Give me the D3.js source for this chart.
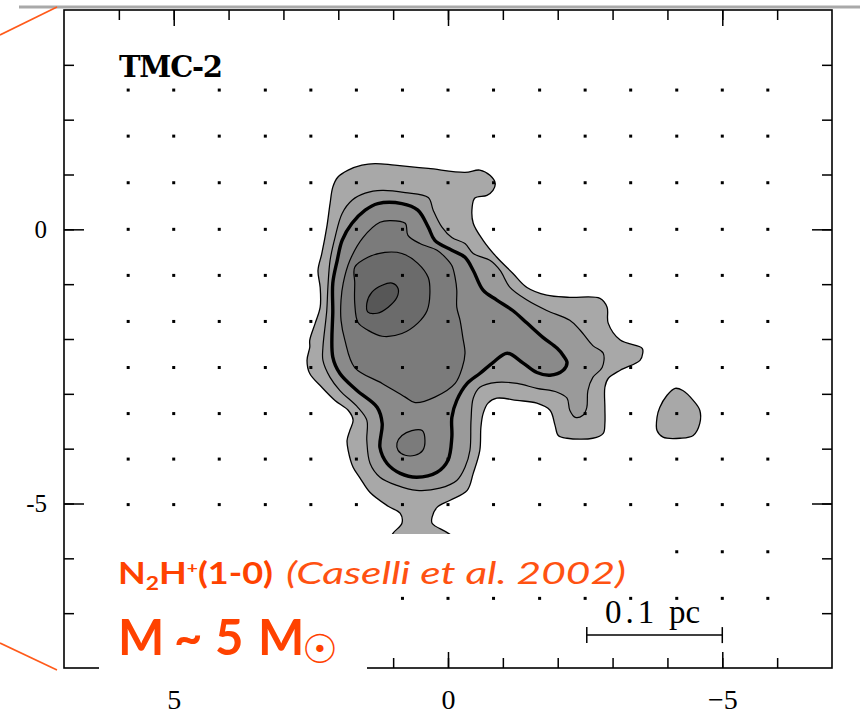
<!DOCTYPE html>
<html>
<head>
<meta charset="utf-8">
<script src="https://cdn.jsdelivr.net/npm/d3@7"></script>
<style>
  html, body { margin: 0; padding: 0; background: #fff; }
  svg { display: block; }
</style>
</head>
<body>
<svg id="chart" width="860" height="714"></svg>
<script>
// ---- axis ticks (offsets in arcmin) ----
const xTicksMinor = [6, 5, 4, 3, 2, 1, 0, -1, -2, -3, -4, -5, -6];
const xTicksMajor = [5, 0, -5];
const xTickLabels = ["5", "0", "\u22125"];
const yTicksMinor = [3, 2, 1, 0, -1, -2, -3, -4, -5, -6, -7];
const yTicksMajor = [0, -5];
const yTickLabels = ["0", "-5"];

// ---- observed map positions ----
const mapCols = [5.83, 5.0, 4.17, 3.33, 2.5, 1.67, 0.83, 0, -0.83, -1.67, -2.5, -3.33, -4.17, -5.0, -5.83];
const mapRows = [2.54, 1.70, 0.85, 0, -0.84, -1.68, -2.52, -3.36, -4.19, -5.02, -5.88, -6.73];

// ---- N2H+ integrated intensity contours, [x, y] offsets ----
const contourL1Main = [
  [2.01, 0.95], [1.82, 1.08], [1.57, 1.17], [1.33, 1.20], [0.97, 1.17], [0.36, 1.11],
  [-0.31, 1.04], [-0.58, 1.08], [-0.77, 0.98], [-0.86, 0.84], [-0.82, 0.71], [-0.71, 0.62],
  [-0.49, 0.57], [-0.44, 0.40], [-0.46, 0.11], [-0.64, -0.20], [-0.89, -0.51], [-1.18, -0.80],
  [-1.44, -1.06], [-1.80, -1.20], [-2.22, -1.24], [-2.77, -1.26], [-2.90, -1.42], [-2.92, -1.71],
  [-3.14, -2.02], [-3.54, -2.17], [-3.55, -2.26], [-3.50, -2.39], [-3.14, -2.57], [-2.92, -2.72],
  [-2.86, -2.88], [-2.86, -3.25], [-2.86, -3.54], [-2.83, -3.72], [-2.64, -3.81], [-2.17, -3.81],
  [-2.01, -3.76], [-1.95, -3.57], [-1.86, -3.30], [-1.62, -3.17], [-1.26, -3.12], [-0.89, -3.08],
  [-0.73, -3.17], [-0.64, -3.36], [-0.60, -3.61], [-0.58, -4.03], [-0.46, -4.45], [-0.35, -4.76],
  [-0.04, -4.94], [0.20, -5.07], [0.29, -5.25], [0.29, -5.36], [0.0, -5.54], [-0.35, -5.80],
  [-0.40, -6.20], [1.20, -6.20], [1.15, -5.80], [1.00, -5.54], [0.84, -5.36], [0.87, -5.18],
  [1.09, -5.05], [1.42, -4.80], [1.60, -4.54], [1.73, -4.34], [1.82, -4.03], [1.84, -3.85],
  [1.79, -3.67], [1.73, -3.48], [1.82, -3.30], [2.06, -3.12], [2.30, -2.88], [2.52, -2.63],
  [2.57, -2.39], [2.52, -2.15], [2.52, -2.02], [2.42, -1.71], [2.33, -1.42], [2.33, -1.06],
  [2.37, -0.75], [2.30, -0.44], [2.21, 0.04], [2.15, 0.47], [2.10, 0.77]
];
const contourL1East = [
  [-3.81, -3.43], [-3.86, -3.25], [-3.99, -3.03], [-4.14, -2.90], [-4.28, -2.94], [-4.47, -3.12],
  [-4.59, -3.30], [-4.59, -3.54], [-4.47, -3.76], [-4.23, -3.81], [-3.92, -3.79], [-3.81, -3.67]
];
const contourL2 = [
  [2.06, -0.15], [1.93, 0.29], [1.75, 0.53], [1.51, 0.66], [1.20, 0.71], [0.78, 0.67],
  [0.36, 0.58], [0.27, 0.35], [0.11, 0.04], [-0.07, -0.15], [-0.31, -0.26], [-0.46, -0.44],
  [-0.77, -0.57], [-0.95, -0.75], [-1.13, -1.06], [-1.44, -1.29], [-1.80, -1.48], [-2.22, -1.66],
  [-2.41, -1.84], [-2.64, -2.12], [-2.83, -2.26], [-2.81, -2.52], [-2.64, -2.70], [-2.55, -2.94],
  [-2.53, -3.25], [-2.46, -3.39], [-2.32, -3.43], [-2.22, -3.30], [-2.17, -3.08], [-1.99, -2.97],
  [-1.62, -2.90], [-1.26, -2.81], [-0.89, -2.79], [-0.58, -2.88], [-0.46, -3.08], [-0.42, -3.48],
  [-0.40, -4.03], [-0.31, -4.34], [-0.16, -4.58], [0.15, -4.72], [0.57, -4.76], [0.93, -4.67],
  [1.24, -4.52], [1.42, -4.27], [1.48, -3.85], [1.48, -3.48], [1.64, -3.25], [1.97, -2.94],
  [2.15, -2.70], [2.28, -2.39], [2.28, -2.15], [2.21, -1.48], [2.19, -1.06], [2.15, -0.57]
];
const contourL3 = [
  [2.02, -0.57], [1.93, -0.20], [1.75, 0.11], [1.51, 0.35], [1.28, 0.47], [0.84, 0.47],
  [0.55, 0.35], [0.36, 0.04], [0.24, -0.20], [-0.07, -0.38], [-0.31, -0.51], [-0.46, -0.75],
  [-0.64, -1.11], [-0.89, -1.29], [-1.18, -1.48], [-1.44, -1.71], [-1.73, -1.97], [-1.99, -2.17],
  [-2.10, -2.30], [-2.17, -2.43], [-2.10, -2.57], [-1.86, -2.66], [-1.62, -2.61], [-1.37, -2.44],
  [-1.08, -2.26], [-0.82, -2.43], [-0.58, -2.63], [-0.35, -2.81], [-0.16, -3.12], [-0.07, -3.43],
  [-0.07, -3.79], [0.0, -4.21], [0.20, -4.43], [0.57, -4.52], [0.87, -4.45], [1.11, -4.27],
  [1.24, -3.98], [1.20, -3.54], [1.29, -3.25], [1.66, -2.94], [1.97, -2.63], [2.10, -2.33],
  [2.10, -1.48], [2.10, -0.98]
];
const contourL4Main = [
  [1.91, -0.98], [1.79, -0.57], [1.55, -0.15], [1.24, 0.13], [1.06, 0.16], [0.78, 0.11],
  [0.73, -0.11], [0.51, -0.26], [0.20, -0.38], [0.05, -0.51], [-0.07, -0.66], [-0.13, -0.88],
  [-0.16, -1.11], [-0.16, -1.42], [-0.22, -1.66], [-0.27, -1.97], [-0.31, -2.26], [-0.26, -2.52],
  [-0.13, -2.81], [0.24, -3.06], [0.60, -3.16], [0.78, -3.06], [1.20, -2.81], [1.70, -2.52],
  [1.88, -2.02], [1.95, -1.66], [1.95, -1.29]
];
const contourL4South = [
  [0.93, -3.90], [0.84, -3.76], [0.66, -3.67], [0.47, -3.67], [0.42, -3.85], [0.46, -4.03],
  [0.60, -4.12], [0.78, -4.12], [0.91, -4.03]
];
const contourL5 = [
  [1.70, -0.69], [1.46, -0.51], [1.15, -0.42], [0.84, -0.44], [0.55, -0.62], [0.36, -0.88],
  [0.33, -1.17], [0.38, -1.48], [0.55, -1.71], [0.84, -1.90], [1.20, -1.95], [1.46, -1.84],
  [1.64, -1.70], [1.70, -1.35], [1.70, -0.98]
];
const contourL6 = [
  [1.48, -1.35], [1.39, -1.15], [1.20, -1.02], [1.02, -0.98], [0.91, -1.08], [0.93, -1.24],
  [1.09, -1.42], [1.29, -1.53], [1.46, -1.51]
];

// ---- linear scale bar (0.1 pc) ----
const scaleBarX = [-2.53, -5.0];
const scaleBarY = -7.40;

// ---------------------------------------------------------------
const svg = d3.select("#chart");
const W = 860, H = 714;
const plot = { left: 64, right: 832, top: 10, bottom: 668 };

const x = d3.scaleLinear().domain([7, -7]).range([plot.left, plot.right]);
const y = d3.scaleLinear().domain([4, -8]).range([plot.top, plot.bottom]);

svg.append("rect").attr("width", W).attr("height", H).attr("fill", "#fff");

// slide decoration: grey rule and orange zoom lines
svg.append("line").attr("x1", 19).attr("x2", 860).attr("y1", 7).attr("y2", 7)
  .attr("stroke", "#a9a9a9").attr("stroke-width", 3);
svg.append("line").attr("x1", 0).attr("y1", 35).attr("x2", 57).attr("y2", 7)
  .attr("stroke", "#ff5a1a").attr("stroke-width", 1.6);
svg.append("line").attr("x1", 0).attr("y1", 643).attr("x2", 57).attr("y2", 670)
  .attr("stroke", "#ff5a1a").attr("stroke-width", 1.6);

// ---- contours ----
const path = d3.line()
  .x(d => x(d[0]))
  .y(d => y(d[1]))
  .curve(d3.curveCatmullRomClosed.alpha(0.5));

const layers = [
  { pts: contourL1Main, fill: "#a8a8a8", sw: 1.3 },
  { pts: contourL1East, fill: "#a8a8a8", sw: 1.3 },
  { pts: contourL2, fill: "#9a9a9a", sw: 1.2 },
  { pts: contourL3, fill: "#8a8a8a", sw: 3.4 },
  { pts: contourL4Main, fill: "#7b7b7b", sw: 1.2 },
  { pts: contourL4South, fill: "#7b7b7b", sw: 1.2 },
  { pts: contourL5, fill: "#6b6b6b", sw: 1.2 },
  { pts: contourL6, fill: "#575757", sw: 1.2 }
];
const gC = svg.append("g").attr("class", "contours");
gC.selectAll("path").data(layers).join("path")
  .attr("d", d => path(d.pts))
  .attr("fill", d => d.fill)
  .attr("stroke", "#000")
  .attr("stroke-width", d => d.sw)
  .attr("stroke-linejoin", "round");

// ---- observed positions ----
const grid = mapRows.flatMap(r => mapCols.map(c => [c, r]));
svg.append("g").attr("class", "positions")
  .selectAll("rect").data(grid).join("rect")
  .attr("x", d => x(d[0]) - 1.5).attr("y", d => y(d[1]) - 1.5)
  .attr("width", 3).attr("height", 3).attr("fill", "#000");

// ---- frame and axes ----
const axisFont = "'Liberation Serif', 'DejaVu Serif', serif";
function styleAxis(size) {
  return g => {
    g.select(".domain").remove();
    g.selectAll(".tick line").attr("stroke", "#000").attr("stroke-width", 1.5);
    g.selectAll(".tick text").attr("font-family", axisFont).attr("font-size", size).attr("fill", "#000");
  };
}
// bottom
svg.append("g").attr("transform", `translate(0,${plot.bottom})`)
  .call(d3.axisBottom(x).tickValues(xTicksMinor).tickSizeInner(-10).tickSizeOuter(0).tickFormat(""))
  .call(styleAxis(28));
svg.append("g").attr("transform", `translate(0,${plot.bottom})`)
  .call(d3.axisBottom(x).tickValues(xTicksMajor).tickSizeInner(-16).tickSizeOuter(0)
    .tickPadding(21).tickFormat((d, i) => xTickLabels[i]))
  .call(styleAxis(28));
// top
svg.append("g").attr("transform", `translate(0,${plot.top})`)
  .call(d3.axisTop(x).tickValues(xTicksMinor).tickSizeInner(-10).tickSizeOuter(0).tickFormat(""))
  .call(styleAxis(28));
svg.append("g").attr("transform", `translate(0,${plot.top})`)
  .call(d3.axisTop(x).tickValues(xTicksMajor).tickSizeInner(-16).tickSizeOuter(0).tickFormat(""))
  .call(styleAxis(28));
// left
svg.append("g").attr("transform", `translate(${plot.left},0)`)
  .call(d3.axisLeft(y).tickValues(yTicksMinor).tickSizeInner(-10).tickSizeOuter(0).tickFormat(""))
  .call(styleAxis(25));
svg.append("g").attr("transform", `translate(${plot.left},0)`)
  .call(d3.axisLeft(y).tickValues(yTicksMajor).tickSizeInner(-20).tickSizeOuter(0)
    .tickPadding(17).tickFormat((d, i) => yTickLabels[i]))
  .call(styleAxis(25));
// right
svg.append("g").attr("transform", `translate(${plot.right},0)`)
  .call(d3.axisRight(y).tickValues(yTicksMinor).tickSizeInner(-10).tickSizeOuter(0).tickFormat(""))
  .call(styleAxis(25));
svg.append("g").attr("transform", `translate(${plot.right},0)`)
  .call(d3.axisRight(y).tickValues(yTicksMajor).tickSizeInner(-20).tickSizeOuter(0).tickFormat(""))
  .call(styleAxis(25));

svg.append("rect")
  .attr("x", plot.left).attr("y", plot.top)
  .attr("width", plot.right - plot.left).attr("height", plot.bottom - plot.top)
  .attr("fill", "none").attr("stroke", "#000").attr("stroke-width", 1.6);

// source name
svg.append("text")
  .attr("x", 119).attr("y", 77)
  .attr("font-family", "'DejaVu Serif', serif").attr("font-weight", "bold").attr("font-size", 29)
  .attr("textLength", 104).attr("lengthAdjust", "spacing")
  .attr("fill", "#000").text("TMC-2");

// scale bar
const sb = svg.append("g").attr("stroke", "#000").attr("stroke-width", 1.5);
sb.append("line").attr("x1", x(scaleBarX[0])).attr("x2", x(scaleBarX[1]))
  .attr("y1", y(scaleBarY)).attr("y2", y(scaleBarY));
scaleBarX.forEach(v => sb.append("line").attr("x1", x(v)).attr("x2", x(v))
  .attr("y1", y(scaleBarY) - 8).attr("y2", y(scaleBarY) + 8));
const sbText = svg.append("text")
  .attr("y", y(scaleBarY) - 12)
  .attr("font-family", axisFont).attr("font-size", 33)
  .attr("fill", "#000");
sbText.append("tspan").attr("x", 605).attr("letter-spacing", 4).text("0.1");
sbText.append("tspan").attr("x", 669).attr("letter-spacing", 0).text("pc");

// ---- annotation text boxes ----
svg.append("rect").attr("x", 99).attr("y", 534).attr("width", 551).attr("height", 60).attr("fill", "#fff");
svg.append("rect").attr("x", 99).attr("y", 594).attr("width", 268).attr("height", 90).attr("fill", "#fff");

const noteFont = "Lato, 'Open Sans', sans-serif";
const orange = "#ff4200";
const t1 = svg.append("text")
  .attr("x", 118).attr("y", 584)
  .attr("font-family", noteFont).attr("font-weight", "bold").attr("font-size", 30)
  .attr("fill", orange)
  .attr("textLength", 155).attr("lengthAdjust", "spacingAndGlyphs");
t1.append("tspan").text("N");
t1.append("tspan").attr("font-size", 19).attr("dy", 6).text("2");
t1.append("tspan").attr("dy", -6).text("H");
t1.append("tspan").attr("font-size", 16).attr("dy", -11).text("+");
t1.append("tspan").attr("dy", 11).text("(1-0)");

svg.append("text")
  .attr("x", 286).attr("y", 584)
  .attr("font-family", noteFont).attr("font-style", "italic").attr("font-size", 30)
  .attr("fill", "#ff5212")
  .attr("textLength", 340).attr("lengthAdjust", "spacingAndGlyphs")
  .text("(Caselli et al. 2002)");

// mass estimate with the solar symbol as a subscript
const t2 = svg.append("text")
  .attr("y", 655)
  .attr("font-family", noteFont).attr("font-weight", "bold").attr("font-size", 49)
  .attr("fill", orange);
t2.append("tspan").attr("x", 118).text("M");
t2.append("tspan").attr("x", 174).text("~");
t2.append("tspan").attr("x", 215).text("5");
t2.append("tspan").attr("x", 258).text("M");
t2.append("tspan")
  .attr("x", 302).attr("dy", 8)
  .attr("font-family", "'DejaVu Sans', sans-serif").attr("font-weight", "normal")
  .attr("font-size", 40)
  .text("\u2609");
</script>
</body>
</html>
